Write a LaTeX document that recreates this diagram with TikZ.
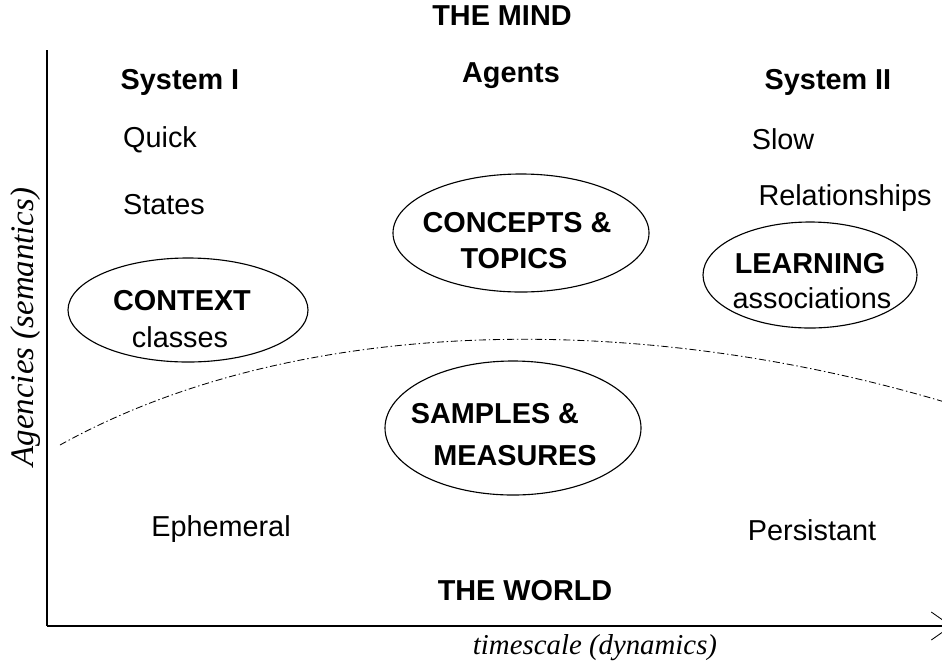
\documentclass[tikz,border=0pt]{standalone}
\usepackage{fontspec}
\setmainfont{Liberation Sans}
\newfontfamily\timesfont{Liberation Serif}
\usepackage{tikz}
\usetikzlibrary{arrows.meta}
\begin{document}
\begin{tikzpicture}[x=0.25mm, y=-0.25mm,
            txt/.style={anchor=base, inner sep=0pt, font=\fontsize{20.5}{24}\selectfont},
            btxt/.style={txt, font=\fontsize{20.5}{24}\selectfont\bfseries},
            oval/.style={draw, line width=0.8pt}]
            \useasboundingbox (0,0) rectangle (942,666);
            % axes
            \coordinate (ytop) at (47,50);
            \coordinate (origin) at (47,626);
            \coordinate (xend) at (952,626);
            \draw [line width=0.9pt] (ytop) -- (origin);
            \draw [line width=0.9pt, -{Straight Barb[length=5mm, width=7mm, line width=0.6pt]}] (origin) -- (xend);
            % border between mind and world
            \coordinate (c0) at (60,445);
            \coordinate (c1) at (948,403);
            \draw [line width=0.6pt, dash pattern=on 5pt off 2pt on 1pt off 2pt] (c0) .. controls (300,312) and (645,312) .. (c1);
            % ellipses
            \coordinate (context) at (188,310);
            \coordinate (concepts) at (521,233);
            \coordinate (learning) at (810,275);
            \coordinate (samples) at (513,428);
            \draw [oval] (context) ellipse [x radius=30mm, y radius=13mm];
            \draw [oval] (concepts) ellipse [x radius=32mm, y radius=14.75mm];
            \draw [oval] (learning) ellipse [x radius=26.75mm, y radius=13.25mm];
            \draw [oval] (samples) ellipse [x radius=32mm, y radius=16.75mm];
            % texts
            \node [btxt] (mind) at (502,25) {THE MIND};
            \node [btxt] (sys1) at (180,89) {System I};
            \node [btxt] (agents) at (511,82) {Agents};
            \node [btxt] (sys2) at (828,89) {System II};
            \node [txt] (quick) at (160,147) {Quick};
            \node [txt] (states) at (164,214) {States};
            \node [txt] (slow) at (783,149) {Slow};
            \node [txt] (relations) at (845,205) {Relationships};
            \node [btxt] (conceptstxt) at (517,232) {CONCEPTS \&};
            \node [btxt] (topicstxt) at (514,268) {TOPICS};
            \node [btxt] (contexttxt) at (182,310) {CONTEXT};
            \node [txt] (classes) at (180,347) {classes};
            \node [btxt] (learningtxt) at (810,273) {LEARNING};
            \node [txt] (assoc) at (812,308) {associations};
            \node [btxt] (samplestxt) at (495,423) {SAMPLES \&};
            \node [btxt] (measures) at (515,465) {MEASURES};
            \node [txt] (ephemeral) at (221,536) {Ephemeral};
            \node [txt] (persistant) at (812,540) {Persistant};
            \node [btxt] (world) at (525,600) {THE WORLD};
            \node [txt, font=\fontsize{20.5}{24}\selectfont\timesfont\itshape] (xlabel) at (595,654) {timescale (dynamics)};
            \node [txt, anchor=base, rotate=90, font=\fontsize{23.4}{28}\selectfont\timesfont\itshape] (ylabel) at (33,327) {Agencies (semantics)};
        \end{tikzpicture}
\end{document}
